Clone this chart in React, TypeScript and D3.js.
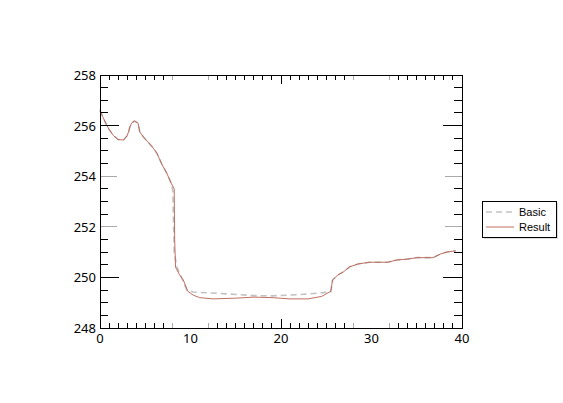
import * as d3 from 'd3';
import { useEffect, useRef } from 'react';

// Result series (x, value)
const resultX = [0, 0.3, 0.7, 1.0, 1.5, 2.0, 2.6, 3.0, 3.2, 3.3, 3.5, 3.8, 4.2, 4.4, 4.8, 5.3, 5.8, 6.3, 6.8, 7.4, 7.9, 8.2, 8.25, 8.35, 8.8, 9.2, 9.7, 10.3, 11, 12.5, 15, 17, 19, 21, 23, 24.5, 25.5, 25.7, 26.3, 26.9, 27.6, 28.5, 29.8, 31.8, 32.8, 33.9, 35, 36.8, 37.6, 38.3, 39.3];
const resultY = [256.6, 256.35, 256.05, 255.85, 255.6, 255.45, 255.43, 255.6, 255.8, 255.95, 256.1, 256.18, 256.1, 255.75, 255.55, 255.35, 255.15, 254.9, 254.5, 254.1, 253.7, 253.5, 251.5, 250.4, 250.1, 249.9, 249.45, 249.3, 249.2, 249.15, 249.18, 249.22, 249.2, 249.15, 249.15, 249.25, 249.45, 249.9, 250.1, 250.22, 250.42, 250.53, 250.6, 250.6, 250.69, 250.72, 250.78, 250.78, 250.92, 251.0, 251.05];

// Basic series (x, value)
const basicX = [0, 0.3, 0.7, 1.0, 1.5, 2.0, 2.6, 3.0, 3.2, 3.3, 3.5, 3.8, 4.2, 4.4, 4.8, 5.3, 5.8, 6.3, 6.8, 7.4, 7.9, 8.05, 8.1, 8.2, 8.5, 9.0, 9.6, 10.3, 14, 17, 19, 22, 25.5, 25.7, 26.3, 26.9, 27.6, 28.5, 29.8, 31.8, 32.8, 33.9, 35, 36.8, 37.6, 38.3, 39.3];
const basicY = [256.6, 256.35, 256.05, 255.85, 255.6, 255.45, 255.43, 255.6, 255.8, 255.95, 256.1, 256.18, 256.1, 255.75, 255.55, 255.35, 255.15, 254.9, 254.5, 254.1, 253.7, 253.4, 252.5, 251.0, 250.4, 250.0, 249.5, 249.42, 249.35, 249.28, 249.27, 249.32, 249.42, 249.9, 250.1, 250.22, 250.42, 250.53, 250.6, 250.6, 250.69, 250.72, 250.78, 250.78, 250.92, 251.0, 251.05];

// ticks
const xLabels = [0, 10, 20, 30, 40];
const yLabels = [248, 250, 252, 254, 256, 258];
const xMinor = [1, 2, 3, 4, 5, 6, 7, 13, 14, 15, 16, 17, 18, 19, 21, 22, 23, 24, 25, 26, 27, 33, 34, 35, 36, 37, 38, 39];
const xGray = [8, 12, 28, 32];
const xMajor = [20];
const yMinor = [248.5, 249, 249.5, 250.5, 251, 251.5, 252.5, 253, 253.5, 254.5, 255, 255.5, 256.5, 257, 257.5];
const yMajor = [250, 256];
const yGray = [252, 254];

const series = [
  { name: 'Basic', xs: basicX, ys: basicY, color: '#c2c2c2', width: 1.6, dash: '6,4' },
  { name: 'Result', xs: resultX, ys: resultY, color: '#b8604f', width: 0.9, dash: '' },
];

const App = () => {
  const svgRef = useRef(null);

  useEffect(() => {
    const svg = d3.select(svgRef.current);
    svg.selectAll('*').remove();
    const left = 100, right = 462, top = 75, bottom = 328;
    const font = 'Noto Sans, DejaVu Sans, sans-serif';

    const x = d3.scaleLinear().domain([0, 40]).range([left, right]);
    const y = d3.scaleLinear().domain([248, 258]).range([bottom, top]);

    const line = d3.line<number>()
      .x(d => x(d[0]))
      .y(d => y(d[1]));

    // series
    series.forEach(s => {
      const pts = s.xs.map((v, i) => [v, s.ys[i]]);
      svg.append('path')
        .attr('d', line(pts as any))
        .attr('fill', 'none')
        .attr('stroke', s.color)
        .attr('stroke-width', s.width)
        .attr('stroke-dasharray', s.dash || null);
    });

    const g = svg.append('g').attr('shape-rendering', 'crispEdges');

    // x ticks (top and bottom, inward)
    const xt = (vals, len, color) => {
      vals.forEach(v => {
        g.append('line').attr('x1', x(v)).attr('x2', x(v)).attr('y1', bottom).attr('y2', bottom - len).attr('stroke', color);
        g.append('line').attr('x1', x(v)).attr('x2', x(v)).attr('y1', top).attr('y2', top + len).attr('stroke', color);
      });
    };
    xt(xMinor, 5, '#000');
    xt(xGray, 5, '#aaa');
    xt(xMajor, 9, '#000');

    // y ticks (left and right, inward)
    const yt = (vals, len, color) => {
      vals.forEach(v => {
        g.append('line').attr('x1', left).attr('x2', left + len).attr('y1', y(v)).attr('y2', y(v)).attr('stroke', color);
        g.append('line').attr('x1', right).attr('x2', right - len).attr('y1', y(v)).attr('y2', y(v)).attr('stroke', color);
      });
    };
    yt(yMinor, 8, '#000');
    yt(yMajor, 19, '#000');
    yt(yGray, 17, '#aaa');

    // frame
    g.append('rect')
      .attr('x', left).attr('y', top)
      .attr('width', right - left).attr('height', bottom - top)
      .attr('fill', 'none').attr('stroke', '#000');

    // labels
    svg.append('g').selectAll('text').data(xLabels).enter().append('text')
      .attr('x', d => x(d)).attr('y', bottom + 15)
      .attr('text-anchor', 'middle')
      .style('font-family', font).style('font-size', '13px')
      .text(d => d);

    svg.append('g').selectAll('text').data(yLabels).enter().append('text')
      .attr('x', left - 4).attr('y', d => y(d) + 5)
      .attr('text-anchor', 'end')
      .style('font-family', font).style('font-size', '13px')
      .text(d => d);

    // legend
    const lg = svg.append('g').attr('transform', 'translate(482,201)');
    lg.append('rect').attr('x', 2).attr('y', 2).attr('width', 74).attr('height', 36).attr('fill', '#ddd');
    lg.append('rect').attr('x', 0).attr('y', 0).attr('width', 74).attr('height', 36)
      .attr('fill', '#fff').attr('stroke', '#000').attr('shape-rendering', 'crispEdges');
    series.forEach((s, i) => {
      const yy = 11 + i * 15;
      lg.append('line').attr('x1', 4).attr('x2', 32).attr('y1', yy).attr('y2', yy)
        .attr('stroke', s.color).attr('stroke-width', s.width).attr('stroke-dasharray', s.dash || null);
      lg.append('text').attr('x', 37).attr('y', yy + 4)
        .style('font-family', 'Liberation Sans, Arial, sans-serif').style('font-size', '11px')
        .text(s.name);
    });
  }, []);

  return (
    <svg ref={svgRef} width={563} height={403} style={{ position: 'absolute', left: 0, top: 0, background: '#fff' }}></svg>
  );
};

export default App;
